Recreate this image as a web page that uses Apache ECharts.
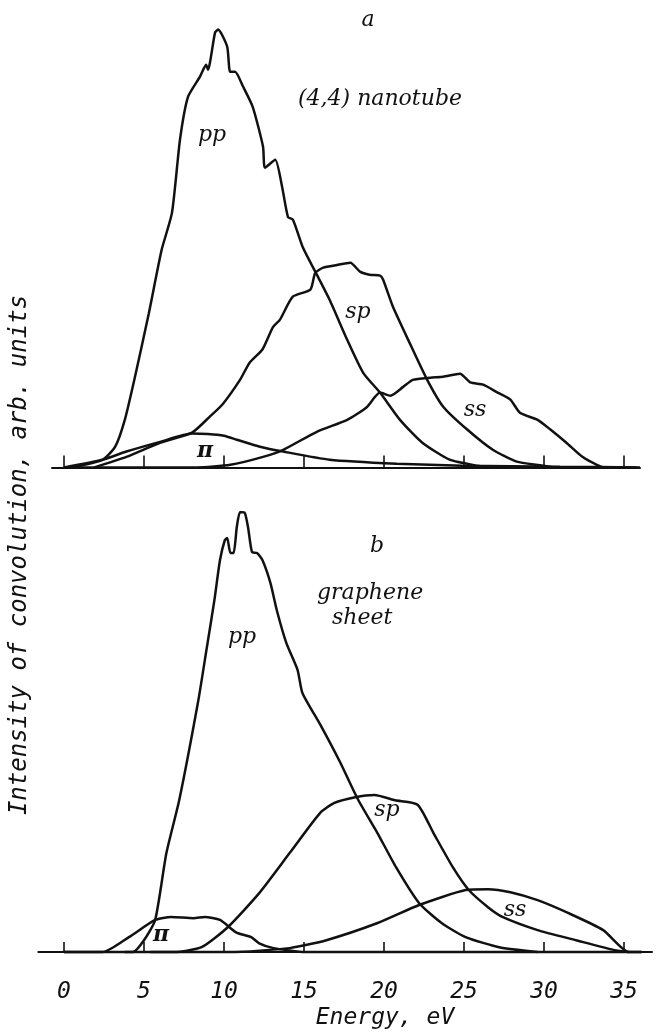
<!DOCTYPE html>
<html>
<head>
<meta charset="utf-8">
<script src="https://cdn.jsdelivr.net/npm/echarts@6/dist/echarts.min.js"></script>
<style>
  html, body { margin: 0; padding: 0; background: #fff; }
  #chart { width: 656px; height: 1034px; }
</style>
</head>
<body>
<div id="chart"></div>
<script>
// energy ticks, eV
const energyTicks = [0, 5, 10, 15, 20, 25, 30, 35];

// (a) (4,4) nanotube, [energy eV, intensity arb. units]
const tubePP = [[0.5, 0], [2.4, 1.7], [3.2, 4.7], [3.8, 10.8], [4.4, 20], [5.3, 35], [6.1, 49.4], [6.75, 57.9],
  [7.25, 74.5], [7.75, 84.2], [8.5, 88.8], [8.88, 91.5], [9.0, 90.4], [9.44, 98.8], [9.63, 99.5], [10.2, 95.6],
  [10.38, 89.9], [10.69, 89.9], [11.2, 86.5], [11.8, 81.9], [12.44, 72.9], [12.56, 68.1], [13.2, 69.9],
  [13.63, 63.8], [14.0, 56.9], [14.31, 56.3], [14.94, 49.9], [15.8, 43.8], [16.6, 38.1], [17.7, 29],
  [18.7, 21.5], [19.75, 17], [21, 10.8], [22.4, 5.6], [24.1, 1.75], [25.8, 0.4], [26.8, 0]];
const tubeSP = [[1.9, 0], [3.9, 2.4], [6.0, 5.6], [8.0, 7.9], [9.1, 11.5], [9.9, 14.3], [11.0, 19.9],
  [11.6, 23.8], [12.4, 26.8], [13.06, 31.9], [13.5, 33.6], [14.3, 38.8], [15.4, 40.4], [15.7, 44.2],
  [16.2, 45.4], [17.06, 46], [17.9, 46.5], [18.5, 44.5], [19.1, 43.8], [19.75, 43.6], [19.94, 42.7],
  [20.56, 36.5], [21.6, 28.3], [22.7, 19.9], [23.7, 13.8], [25.2, 8.6], [26.8, 4.0], [28.3, 1.3],
  [29.75, 0.5], [30.6, 0]];
const tubeSS = [[0, 0], [8.3, 0], [10.4, 0.6], [12.44, 2.4], [13.7, 4.0], [15.8, 8.1], [17.7, 10.8],
  [18.9, 13.6], [19.75, 17], [20.4, 16.3], [21.2, 18.3], [21.8, 19.9], [22.9, 20.4], [23.7, 20.6],
  [24.75, 21.3], [25.4, 19.3], [26.2, 18.8], [27.1, 17], [27.9, 15.4], [28.5, 12.4], [29.6, 10.8],
  [30.4, 8.6], [31.4, 5.6], [32.4, 2.4], [33.3, 0.6], [33.8, 0], [35.8, 0]];
const tubePi = [[0, 0], [2.4, 1.75], [3.9, 3.6], [6.0, 5.8], [8.0, 7.7], [9.0, 7.6], [10.0, 7.2],
  [10.8, 6.3], [12.25, 4.7], [13.7, 3.6], [16.6, 1.75], [20.8, 0.84], [24.9, 0.4], [31, 0.15], [36, 0]];

// (b) graphene sheet
const sheetPP = [[3.8, 0], [4.3, 0], [5.0, 2.7], [5.7, 7.3], [6.4, 22.5], [7.2, 34.5], [8.4, 57.3],
  [8.9, 68.6], [9.4, 80], [9.75, 89.1], [10.05, 93.6], [10.2, 94.1], [10.4, 90.7], [10.6, 90.7], [10.8, 96.6],
  [11.0, 100], [11.3, 99.8], [11.5, 96.6], [11.75, 90.9], [12.06, 90.7], [12.4, 89.1], [12.9, 83.9],
  [13.3, 77.7], [13.9, 70.2], [14.6, 64.1], [14.9, 58.9], [16.0, 51.8], [17.25, 43.2], [18.4, 34.5],
  [19.6, 27], [20.75, 19.3], [22.2, 11.1], [23.6, 6.6], [25.1, 3.4], [27.2, 1.1], [29.6, 0]];
const sheetSP = [[5.4, 0], [6.9, 0], [8.6, 1.1], [10.25, 5.7], [12.2, 13.4], [14.1, 22.5], [16.0, 31.6],
  [16.9, 33.9], [18.2, 35.2], [19.4, 35.7], [20.7, 34.5], [22.1, 33.5], [23.1, 27], [24.3, 19.3],
  [25.3, 14.1], [26.5, 10.2], [27.4, 8], [29.6, 5], [32, 2.7], [34.4, 0.45], [35.3, 0]];
const sheetSS = [[0, 0], [10.4, 0], [14.1, 0.9], [16.4, 2.7], [19.6, 6.6], [22.2, 10.7], [25.1, 14.1],
  [26.5, 14.3], [27.9, 13.6], [29.6, 11.8], [31.5, 8.9], [33.7, 5], [35.3, 0], [36.1, 0]];
const sheetPi = [[0, 0], [2.4, 0], [4.06, 3.4], [5.7, 7.3], [6.7, 8], [8.1, 7.7], [8.8, 8], [9.75, 7.3],
  [10.75, 4.5], [11.7, 3.4], [12.2, 2], [13.1, 0.9], [15.1, 0], [36.1, 0]];

const ink = "#111";
const serifItalic = { fontFamily: "DejaVu Serif", fontStyle: "italic", fontSize: 22, fill: ink };
const monoItalic = { fontFamily: "DejaVu Sans Mono", fontStyle: "italic", fontSize: 23, fill: ink };

function curve(data, grid) {
  return {
    type: "line",
    xAxisIndex: grid,
    yAxisIndex: grid,
    data: data,
    symbol: "none",
    smooth: 0.2,
    lineStyle: { color: ink, width: 2.5 },
    silent: true
  };
}

function energyAxis(grid, min, max, tickLen, showLabels) {
  return {
    type: "value",
    gridIndex: grid,
    min: min,
    max: max,
    splitLine: { show: false },
    axisLine: { lineStyle: { color: ink, width: 2 } },
    axisTick: { inside: true, length: tickLen, customValues: energyTicks, lineStyle: { color: ink, width: 1.6 } },
    axisLabel: {
      show: showLabels,
      customValues: energyTicks,
      margin: 10,
      color: ink,
      fontFamily: "DejaVu Sans Mono",
      fontStyle: "italic",
      fontSize: 23
    }
  };
}

function text(str, x, y, style, extra) {
  return Object.assign({
    type: "text",
    x: x,
    y: y,
    style: Object.assign({ text: str, align: "center", verticalAlign: "middle" }, style)
  }, extra || {});
}

const chart = echarts.init(document.getElementById("chart"));
chart.setOption({
  animation: false,
  backgroundColor: "#fff",
  grid: [
    { left: 52, right: 16, top: 27.4, bottom: 549 },
    { left: 38.4, right: 4, top: 512.1, bottom: 63 }
  ],
  xAxis: [
    energyAxis(0, -0.75, 36, 12, false),
    energyAxis(1, -1.6, 36.75, 10, true)
  ],
  yAxis: [
    { type: "value", gridIndex: 0, min: -4, max: 100, show: false },
    { type: "value", gridIndex: 1, min: -4.3, max: 100, show: false }
  ],
  series: [
    curve(tubePP, 0), curve(tubeSP, 0), curve(tubeSS, 0), curve(tubePi, 0),
    curve(sheetPP, 1), curve(sheetSP, 1), curve(sheetSS, 1), curve(sheetPi, 1)
  ],
  graphic: [
    text("a", 368, 20, serifItalic),
    text("(4,4) nanotube", 380, 99, serifItalic),
    text("pp", 212, 135, serifItalic),
    text("sp", 358, 312, serifItalic),
    text("ss", 475, 410, serifItalic),
    text("\u03c0", 205, 451, Object.assign({}, serifItalic, { fontWeight: "bold" })),
    text("b", 377, 546, serifItalic),
    text("graphene", 317, 593, Object.assign({}, serifItalic, { align: "left" })),
    text("sheet", 332, 618, Object.assign({}, serifItalic, { align: "left" })),
    text("pp", 242, 637, serifItalic),
    text("sp", 387, 810, serifItalic),
    text("ss", 515, 910, serifItalic),
    text("\u03c0", 161, 935, Object.assign({}, serifItalic, { fontWeight: "bold" })),
    text("Energy, eV", 385, 1018, monoItalic),
    text("Intensity of convolution, arb. units", 20, 555,
      Object.assign({}, monoItalic, { fontSize: 24 }), { rotation: Math.PI / 2 })
  ]
});
</script>
</body>
</html>
